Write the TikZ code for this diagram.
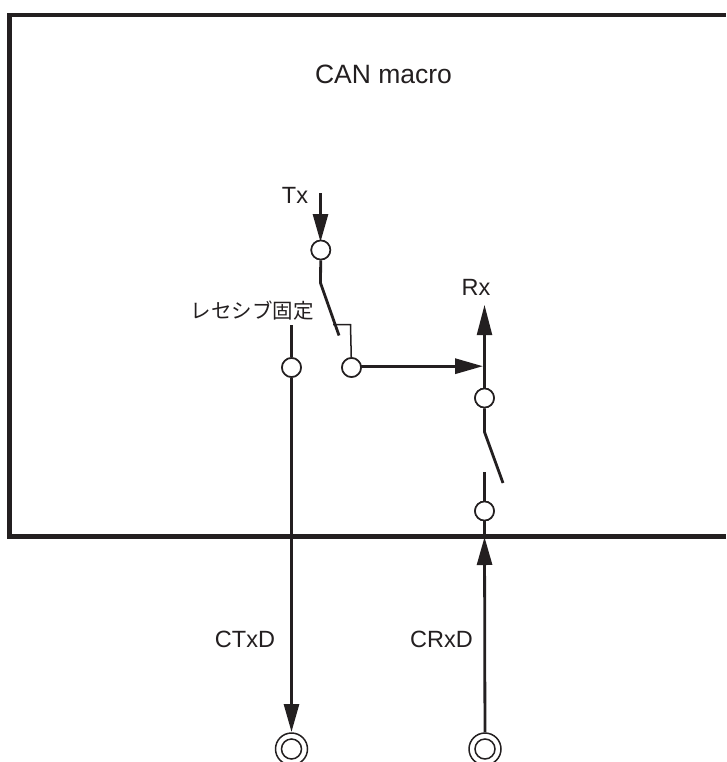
\documentclass[tikz,border=0pt]{standalone}
\usepackage{fontspec}
\setmainfont{Liberation Sans}
\newfontfamily\cjk{Noto Sans CJK JP}
\usetikzlibrary{arrows.meta}
\definecolor{ink}{HTML}{231F20}
\tikzset{
  x=1pt,y=-1pt,
  wire/.style={draw=ink,line width=2.8pt},
  thinwire/.style={draw=ink,line width=1.5pt},
  arrowwire/.style={wire,-{Triangle[length=28pt,width=15pt,color=ink]},shorten >=0pt},
  term/.style={circle,draw=ink,fill=white,line width=1.6pt,minimum size=19pt,inner sep=0pt},
  pininner/.style={circle,draw=ink,fill=white,line width=1.5pt,minimum size=20pt,inner sep=0pt},
  lab/.style={font=\fontsize{23.5}{26}\selectfont,text=ink,inner sep=0pt},
  titlelab/.style={font=\fontsize{26.5}{29}\selectfont,text=ink,inner sep=0pt},
  jlab/.style={font=\cjk\fontsize{20.5}{24}\selectfont,text=ink,inner sep=0pt},
}
\begin{document}
\begin{tikzpicture}
\useasboundingbox (0,0) rectangle (726,762);
% macro frame
\coordinate (tr) at (726,15);
\coordinate (tl) at (9.5,15);
\coordinate (bl) at (9.5,536.5);
\coordinate (br) at (726,536.5);
% terminals
\node[term] (txin) at (320.8,250) {};
\node[term] (fix) at (291.5,367.5) {};
\node[term] (loop) at (351.5,367.5) {};
\node[term] (rxup) at (484.5,398) {};
\node[term] (rxdn) at (484.5,511) {};
\coordinate (txtop) at (320.5,193);
\coordinate (txknee) at (320.5,283);
\coordinate (txend) at (339,335.5);
\coordinate (brkl) at (333,324.5);
\coordinate (brkr) at (350.5,324.5);
\coordinate (fixtop) at (291.5,325);
\coordinate (rxtip) at (484.5,305);
\coordinate (hzstart) at (361,366.2);
\coordinate (hztip) at (483,366.2);
\coordinate (rxknee) at (484.5,432);
\coordinate (rxend) at (503,483);
\coordinate (rxstub) at (484.5,472);
\coordinate (rxin) at (484.5,537);
\node[pininner,minimum size=32pt] (ctx) at (291.5,749) {};
\node[pininner] at (ctx.center) {};
\node[pininner,minimum size=32pt] (crx) at (485,749) {};
\node[pininner] at (crx.center) {};
% wires
\draw[arrowwire] (txtop) -- (320.5,242);
\draw[wire] (txin) -- (txknee) -- (txend);
\draw[thinwire] (brkl) -- (brkr) -- (loop);
\draw[wire] (fixtop) -- (fix);
\draw[arrowwire] (fix) -- (291.5,732);
\draw[arrowwire,line width=3.2pt] (hzstart) -- (hztip);
\draw[wire,line width=2.2pt,-{Triangle[length=30pt,width=15pt,color=ink]}] (rxup) -- (rxtip);
\draw[wire] (rxup) -- (rxknee) -- (rxend);
\draw[wire] (rxstub) -- (rxdn);
\draw[wire] (rxdn) -- (rxin);
\draw[arrowwire] (crx) -- (rxin);
% redraw terminals over wires
\node[term] at (txin) {};
\node[term] at (fix) {};
\node[term] at (loop) {};
\node[term] at (rxup) {};
\node[term] at (rxdn) {};
% frame
\draw[draw=ink,line width=4.6pt] (tr) -- (tl) -- (bl) -- (br);
% labels
\node[titlelab] (title) at (383.5,74) {CAN macro};
\node[lab] (tx) at (295,195) {Tx};
\node[lab] (rx) at (476,287.5) {Rx};
\node[jlab] (fixlab) at (252,310.5) {レセシブ固定};
\node[lab] (ctxl) at (245,639) {CTxD};
\node[lab] (crxl) at (441.5,639) {CRxD};
\end{tikzpicture}
\end{document}
